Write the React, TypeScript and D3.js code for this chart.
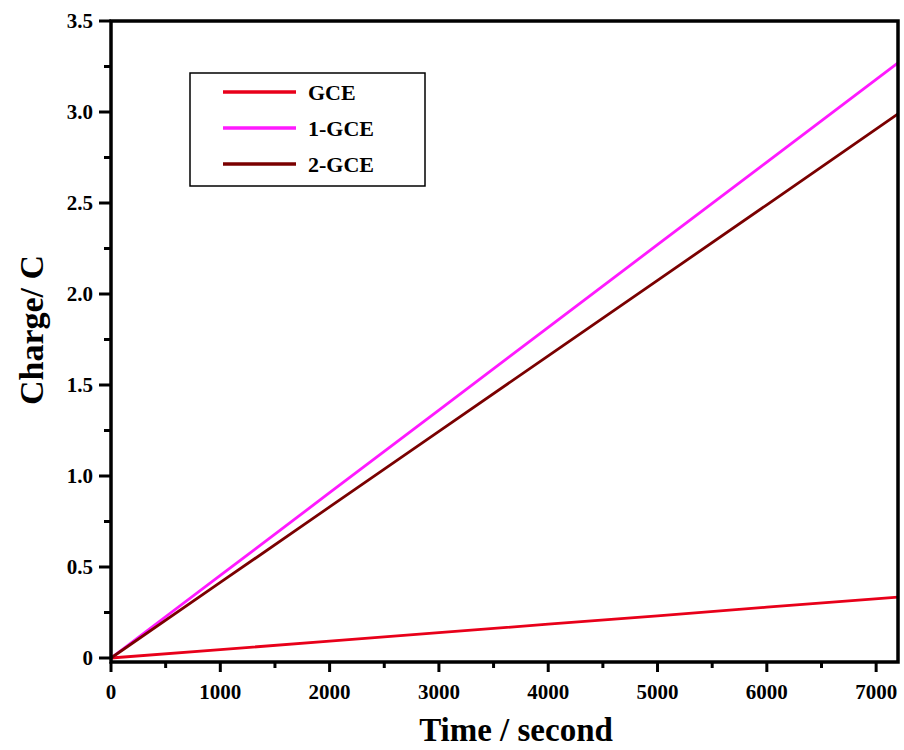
import React from "react";
import * as d3 from "d3";

const times = [0, 1000, 2000, 3000, 4000, 5000, 6000, 7200];
const gce = [0, 0.046, 0.093, 0.139, 0.186, 0.232, 0.279, 0.335];
const gce1 = [0, 0.454, 0.908, 1.362, 1.817, 2.271, 2.725, 3.27];
const gce2 = [0, 0.415, 0.83, 1.245, 1.66, 2.075, 2.49, 2.99];
const seriesNames = ["GCE", "1-GCE", "2-GCE"];
const seriesColors = ["#e8001a", "#ff1aff", "#7a0000"];
const xTicks = [0, 1000, 2000, 3000, 4000, 5000, 6000, 7000];
const yTicks = [0, 0.5, 1.0, 1.5, 2.0, 2.5, 3.0, 3.5];

export default function App() {
  const W = 904, H = 750;
  const left = 111, right = 898, top = 21, bottom = 662;
  const x = d3.scaleLinear().domain([0, 7200]).range([left, right]);
  const y = d3.scaleLinear().domain([-0.022, 3.5]).range([bottom, top]);
  const series = [gce, gce1, gce2];
  const line = d3.line<number>().x((_, i) => x(times[i])).y((d) => y(d));
  const xMinor = d3.range(500, 7200, 1000);
  const yMinor = d3.range(0.25, 3.5, 0.5);
  const font = "'Liberation Serif', 'Times New Roman', serif";
  return (
    <svg width={W} height={H} style={{ position: "absolute", left: 0, top: 0 }} fontFamily={font}>
      <rect width={W} height={H} fill="#fff" />
      {series.map((s, i) => (
        <path key={i} d={line(s) || ""} fill="none" stroke={seriesColors[i]} strokeWidth={2.8} />
      ))}
      <rect x={left} y={top} width={right - left} height={bottom - top} fill="none" stroke="#000" strokeWidth={3.5} />
      {xTicks.map((t) => (
        <g key={"x" + t}>
          <line x1={x(t)} x2={x(t)} y1={bottom} y2={bottom + 10} stroke="#000" strokeWidth={3} />
          <text x={x(t)} y={699} textAnchor="middle" fontSize={21} fontWeight="bold">{t}</text>
        </g>
      ))}
      {xMinor.map((t) => (
        <line key={"xm" + t} x1={x(t)} x2={x(t)} y1={bottom} y2={bottom + 6} stroke="#000" strokeWidth={3} />
      ))}
      {yTicks.map((t) => (
        <g key={"y" + t}>
          <line x1={left - 12} x2={left} y1={y(t)} y2={y(t)} stroke="#000" strokeWidth={3} />
          <text x={93} y={y(t)} dy="0.35em" textAnchor="end" fontSize={21} fontWeight="bold">{t === 0 ? "0" : t.toFixed(1)}</text>
        </g>
      ))}
      {yMinor.map((t) => (
        <line key={"ym" + t} x1={left - 7} x2={left} y1={y(t)} y2={y(t)} stroke="#000" strokeWidth={3} />
      ))}
      <text x={516} y={741} textAnchor="middle" fontSize={33} fontWeight="bold">Time / second</text>
      <text transform="translate(43,330) rotate(-90)" textAnchor="middle" fontSize={34} fontWeight="bold">Charge/ C</text>
      <rect x={190} y={73} width={235} height={113} fill="#fff" stroke="#000" strokeWidth={1.5} />
      {seriesNames.map((n, i) => (
        <g key={n}>
          <line x1={223} x2={296} y1={92 + i * 36} y2={92 + i * 36} stroke={seriesColors[i]} strokeWidth={3.5} />
          <text x={308} y={92 + i * 36} dy="0.35em" fontSize={22} fontWeight="bold">{n}</text>
        </g>
      ))}
    </svg>
  );
}
